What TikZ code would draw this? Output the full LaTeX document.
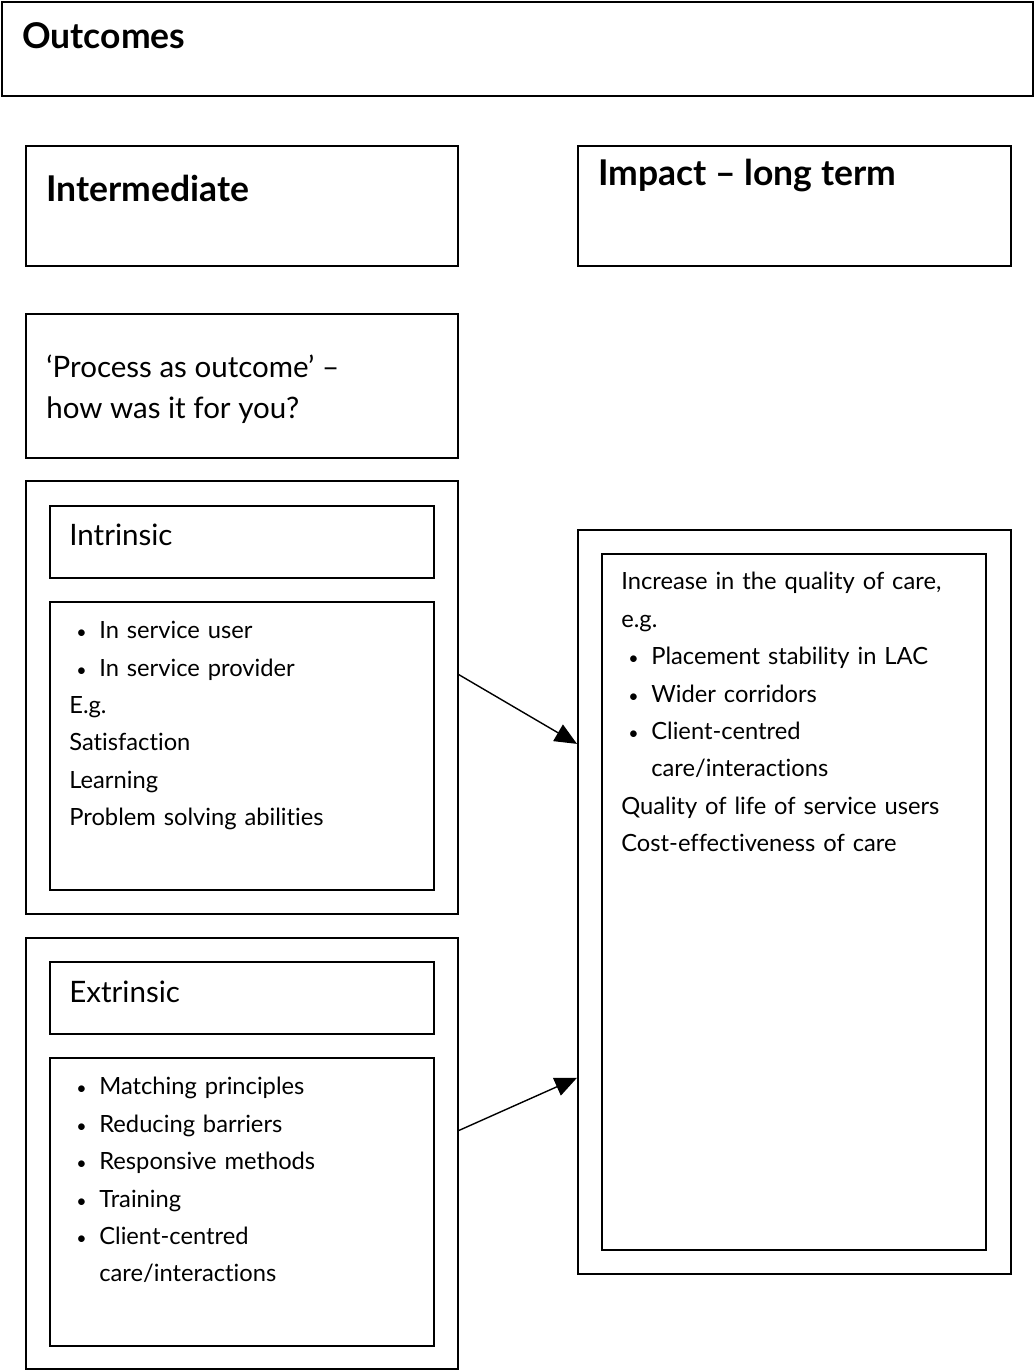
\documentclass[tikz,border=0pt]{standalone}
\usepackage{fontspec}
\setmainfont{Lato}[Ligatures={NoCommon,NoRequired,NoContextual}]
\usetikzlibrary{arrows.meta,positioning}

\newcommand{\itm}[1]{\makebox[0.6cm][l]{\hspace{0.14cm}\scalebox{0.75}{\textbullet}}#1}

\begin{document}
\begin{tikzpicture}[
    x=0.02cm, y=-0.02cm,
    panel/.style={rectangle, draw, line width=1pt, anchor=north west, inner sep=0pt},
    headtxt/.style={anchor=north west, inner sep=0pt, font=\fontsize{20.2}{24}\selectfont\bfseries},
    ttl/.style={anchor=north west, inner sep=0pt, align=left, font=\fontsize{16.8}{23.3}\selectfont},
    itemlist/.style={anchor=north west, inner sep=0pt, text width=7cm, align=left, font=\fontsize{13.5}{21.3}\selectfont},
    arrow/.style={-{Triangle[length=0.44cm,width=0.38cm]}, line width=0.8pt}
]
\useasboundingbox (0,0) rectangle (1034,1370);

% Boxes
\node[panel, minimum width=20.62cm, minimum height=1.88cm] (outc) at (1,1) {};
\node[panel, minimum width=8.64cm, minimum height=2.4cm] (inter) at (25,145) {};
\node[panel, minimum width=8.66cm, minimum height=2.4cm] (impact) at (577,145) {};
\node[panel, minimum width=8.64cm, minimum height=2.88cm] (proc) at (25,313) {};
\node[panel, minimum width=8.64cm, minimum height=8.66cm] (introut) at (25,480) {};
\node[panel, minimum width=7.68cm, minimum height=1.44cm] (intrhead) at (49,505) {};
\node[panel, minimum width=7.68cm, minimum height=5.76cm] (intrlist) at (49,601) {};
\node[panel, minimum width=8.64cm, minimum height=8.62cm] (extrout) at (25,937) {};
\node[panel, minimum width=7.68cm, minimum height=1.44cm] (extrhead) at (49,961) {};
\node[panel, minimum width=7.68cm, minimum height=5.76cm] (extrlist) at (49,1057) {};
\node[panel, minimum width=8.66cm, minimum height=14.88cm] (impout) at (577,529) {};
\node[panel, minimum width=7.68cm, minimum height=13.92cm] (impin) at (601,553) {};

% Texts
\node[headtxt, below right=0.42cm and 0.42cm of outc.north west] (outct) {Outcomes};
\node[headtxt, below right=0.6cm and 0.42cm of inter.north west] (intert) {Intermediate};
\node[headtxt, below right=0.28cm and 0.42cm of impact.north west] (impactt) {Impact – long term};
\node[ttl, below right=0.84cm and 0.42cm of proc.north west] (proct) {‘Process as outcome’ –\\how was it for you?};
\node[ttl, below right=0.38cm and 0.4cm of intrhead.north west] (intrheadt) {Intrinsic};
\node[ttl, below right=0.4cm and 0.4cm of extrhead.north west] (extrheadt) {Extrinsic};
\node[itemlist, below right=0.4cm and 0.4cm of intrlist.north west] (intrlistt) {%
  \itm{In service user}\\
  \itm{In service provider}\\
  E.g.\\
  Satisfaction\\
  Learning\\
  Problem solving abilities};
\node[itemlist, below right=0.4cm and 0.4cm of extrlist.north west] (extrlistt) {%
  \itm{Matching principles}\\
  \itm{Reducing barriers}\\
  \itm{Responsive methods}\\
  \itm{Training}\\
  \itm{Client-centred}\\
  \hspace*{0.6cm}care/interactions};
\node[itemlist, below right=0.38cm and 0.4cm of impin.north west] (impint) {%
  Increase in the quality of care,\\
  e.g.\\
  \itm{Placement stability in LAC}\\
  \itm{Wider corridors}\\
  \itm{Client-centred}\\
  \hspace*{0.6cm}care/interactions\\
  Quality of life of service users\\
  Cost-effectiveness of care};

% Arrows
\draw[arrow] (introut.6.5) -- (impout.144.2);
\draw[arrow] (extrout.6.5) -- (impout.219.6);

\end{tikzpicture}
\end{document}
